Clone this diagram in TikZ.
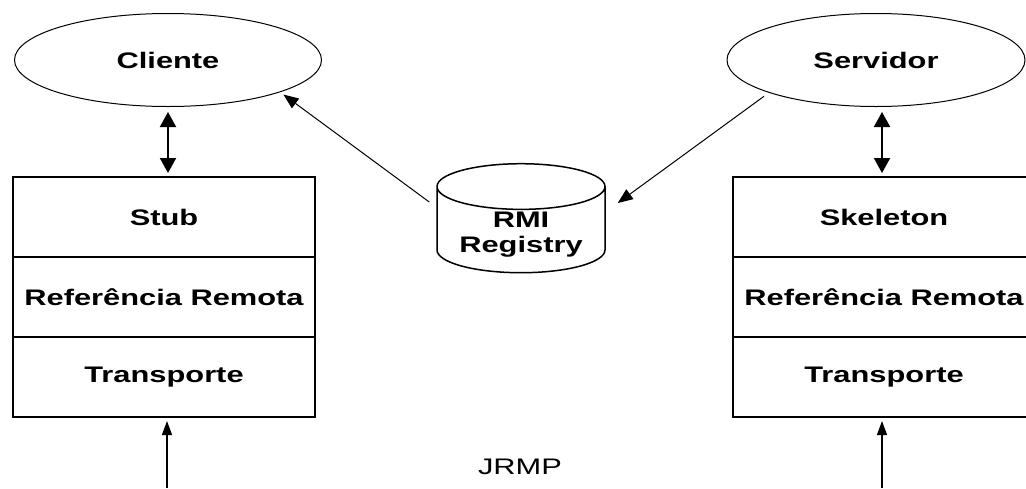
\documentclass[tikz,border=0pt]{standalone}
\usepackage{fontspec}
\setmainfont{Liberation Sans}[FakeStretch=1.37]
\usepackage{tikz}
\usetikzlibrary{shapes,arrows.meta,calc}
\usetikzlibrary{positioning}
\tikzstyle{layer}=[draw, line width=2pt, outer sep=0pt, minimum width=302pt, minimum height=80pt,
anchor=center, text centered, font=\bfseries]
\tikzstyle{process}=[draw, ellipse, line width=1pt, inner sep=0pt, font=\bfseries]
\tikzstyle{registry}=[draw, cylinder, shape border rotate=90, aspect=0.37, line width=1.5pt, inner sep=0pt,
minimum width=168pt, minimum height=109pt, font=\bfseries]
\tikzstyle{dblarrow}=[{Triangle[length=15pt,width=16pt]}-{Triangle[length=15pt,width=16pt]}, line width=2pt]
\tikzstyle{link}=[-{Triangle[length=15pt,width=12pt]}, line width=1pt]
\tikzstyle{wire}=[-{Triangle[length=14pt,width=10pt]}, line width=1.3pt]

\begin{document}
\begin{tikzpicture}[x=1pt, y=-1pt]
		\fontsize{22.5}{25}\selectfont
		\useasboundingbox (0,0) rectangle (1026,488);

		% lado do cliente
		\node[process, minimum width=307pt, minimum height=93pt] (A) at (168,60) {Cliente} ;

		\node[layer] (B) at (164,217) {Stub} ;
		\node[layer, below=0pt of B] (C) {Referência Remota} ;
		\node[layer, below=0pt of C] (D) {Transporte} ;
		\draw[dblarrow, shorten <=5pt, shorten >=4pt] (A.south) -- (A.south |- B.north) ;

		% lado do servidor
		\node[process, minimum width=298pt, minimum height=93pt] (E) at (876,60) {Servidor} ;

		\node[layer] (F) at (884,217) {Skeleton} ;
		\node[layer, below=0pt of F] (G) {Referência Remota} ;
		\node[layer, below=0pt of G] (H) {Transporte} ;
		\draw[dblarrow, shorten <=5pt, shorten >=4pt] ([xshift=6pt]E.south) -- ([xshift=6pt]E.south |- F.north) ;

		% registro
		\node[registry] (R) at (521,230)
			{\raisebox{-22pt}[0pt][0pt]{\begin{tabular}[b]{@{}c@{}}RMI\\Registry\end{tabular}}} ;
		\draw[link, shorten >=4pt] ($(R.west)+(-7,-28)$) -- (A.-16) ;
		\draw[link, shorten <=6pt] (E.-163) -- ($(R.east)+(12,-27)$) ;

		% protocolo
		\coordinate (P) at (167,488) ;
		\coordinate (Q) at (882,488) ;
		\draw[wire, shorten >=4pt] (P) -- (P |- D.south) ;
		\draw[wire, shorten >=4pt] (Q) -- (Q |- H.south) ;
		\node (J) at (520,467) {JRMP} ;
	\end{tikzpicture}
\end{document}
